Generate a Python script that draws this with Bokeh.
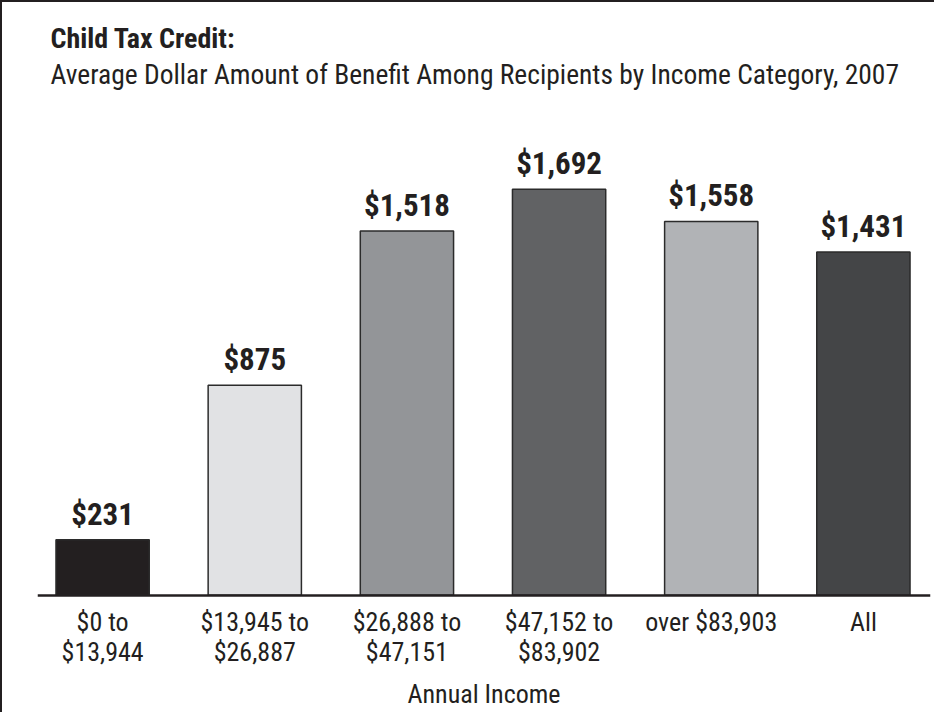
from bokeh.plotting import figure
from bokeh.models import ColumnDataSource, LabelSet, Label, Range1d, FixedTicker
from bokeh.core.properties import value
from bokeh.embed import file_html
from bokeh.resources import INLINE

categories = ["$0 to\n$13,944", "$13,945 to\n$26,887", "$26,888 to\n$47,151",
              "$47,152 to\n$83,902", "over $83,903", "All"]
benefit = [231, 875, 1518, 1692, 1558, 1431]
value_labels = ["$231", "$875", "$1,518", "$1,692", "$1,558", "$1,431"]
bar_colors = ["#231f20", "#e1e2e4", "#939598", "#616264", "#b1b3b6", "#444547"]

title_text = "Child Tax Credit:"
subtitle_text = "Average Dollar Amount of Benefit Among Recipients by Income Category, 2007"
x_title = "Annual Income"

FONT = "'Roboto Condensed', 'Liberation Sans Narrow', 'Arial Narrow', Roboto"
INK = "#231f20"

xs = list(range(len(categories)))
src = ColumnDataSource(dict(x=xs, y=benefit, lab=value_labels, color=bar_colors))

p = figure(width=934, height=712, output_backend="svg", toolbar_location=None,
           x_range=Range1d(-0.428, 5.441), y_range=Range1d(-497.5, 2470.7),
           min_border_left=35, min_border_right=6, min_border_top=0, min_border_bottom=0,
           title=None)
p.styles = {"border-left": "2px solid #231f20", "border-top": "2px solid #231f20"}
p.outline_line_color = None
p.background_fill_color = "white"
p.border_fill_color = "white"
p.xgrid.visible = False
p.ygrid.visible = False
p.yaxis.visible = False

p.vbar(x="x", top="y", width=0.613, bottom=0, source=src, fill_color="color",
       line_color="#2b2b2b", line_width=1.5)

labels = LabelSet(x="x", y="y", text="lab", source=src, y_offset=15,
                  text_align="center", text_baseline="alphabetic",
                  text_font=value(FONT), text_font_size=value("31px"),
                  text_font_style="bold", text_color=INK)
p.add_layout(labels)

ax = p.xaxis[0]
ax.fixed_location = 0
ax.ticker = FixedTicker(ticks=xs)
ax.major_label_overrides = {i: c for i, c in zip(xs, categories)}
ax.major_tick_line_color = None
ax.minor_tick_line_color = None
ax.major_tick_out = 0
ax.major_tick_in = 0
ax.axis_line_color = INK
ax.axis_line_width = 2.5
ax.major_label_text_font = FONT
ax.major_label_text_font_size = "26px"
ax.major_label_text_line_height = 1.0
ax.major_label_text_color = INK
ax.major_label_standoff = 12
ax.axis_label = x_title
ax.axis_label_text_font = FONT
ax.axis_label_text_font_size = "26px"
ax.axis_label_text_font_style = "normal"
ax.axis_label_text_color = INK
ax.axis_label_standoff = 8

p.add_layout(Label(x=13, y=676, x_units="screen", y_units="screen", text=title_text,
                   text_font=FONT, text_font_size="28px", text_font_style="bold",
                   text_color=INK, text_baseline="alphabetic"))
p.add_layout(Label(x=13, y=640, x_units="screen", y_units="screen", text=subtitle_text,
                   text_font=FONT, text_font_size="27.5px",
                   text_color=INK, text_baseline="alphabetic"))

open("out.html", "w").write(file_html(p, INLINE))
